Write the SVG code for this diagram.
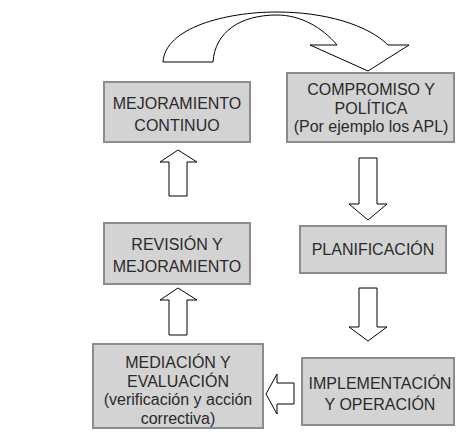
<svg xmlns="http://www.w3.org/2000/svg" width="456" height="432" viewBox="0 0 456 432">
<style>
.box{fill:#d3d3d3;stroke:#8c8c8c;stroke-width:2}
.arr{fill:#fff;stroke:#000;stroke-width:1}
text{font-family:"Liberation Sans",Arial,sans-serif;font-size:16px;fill:#2a2a2a;text-anchor:middle}
</style>
<rect width="456" height="432" fill="#fff"/>
<g id="connectors">
<path class="arr" d="M163,62 C165,28 225,12 277,12 C325,12 368,25 388,45 L409,45 L368,71 L310,45 L337,45 C322,27 300,15 277,15 C240,15 215,32 213,62 Z"/>
<path class="arr" d="M359,158 L377,158 L377,204 L387,204 L368,220 L349,204 L359,204 Z"/>
<path class="arr" d="M359,288 L377,288 L377,327 L387,327 L368,341 L349,327 L359,327 Z"/>
<path class="arr" d="M294,383 L294,404 L277,404 L277,414 L266,394 L277,374 L277,383 Z"/>
<path class="arr" d="M169,335 L169,300 L160,300 L178,288 L197,300 L187,300 L187,335 Z"/>
<path class="arr" d="M169,196 L169,162 L160,162 L178,150 L197,162 L187,162 L187,196 Z"/>
</g>
<g id="mejoramiento-continuo">
<rect class="box" x="104" y="82" width="146" height="60"/>
<text x="177" y="109">MEJORAMIENTO</text>
<text x="177" y="131">CONTINUO</text>
</g>
<g id="compromiso">
<rect class="box" x="287" y="73" width="167" height="69"/>
<text x="371" y="95">COMPROMISO Y</text>
<text x="371" y="113.5">POLÍTICA</text>
<text x="371" y="132">(Por ejemplo los APL)</text>
</g>
<g id="revision">
<rect class="box" x="104" y="223" width="146" height="61"/>
<text x="177" y="250">REVISIÓN Y</text>
<text x="177" y="272">MEJORAMIENTO</text>
</g>
<g id="planificacion">
<rect class="box" x="300" y="226" width="146" height="47"/>
<text x="373" y="255">PLANIFICACIÓN</text>
</g>
<g id="mediacion">
<rect class="box" x="93" y="344" width="170" height="84"/>
<text x="178" y="368">MEDIACIÓN Y</text>
<text x="178" y="386.5">EVALUACIÓN</text>
<text x="178" y="405">(verificación y acción</text>
<text x="178" y="423.5">correctiva)</text>
</g>
<g id="implementacion">
<rect class="box" x="302" y="358" width="152" height="67"/>
<text x="380" y="389">IMPLEMENTACIÓN</text>
<text x="380" y="410">Y OPERACIÓN</text>
</g>
</svg>
